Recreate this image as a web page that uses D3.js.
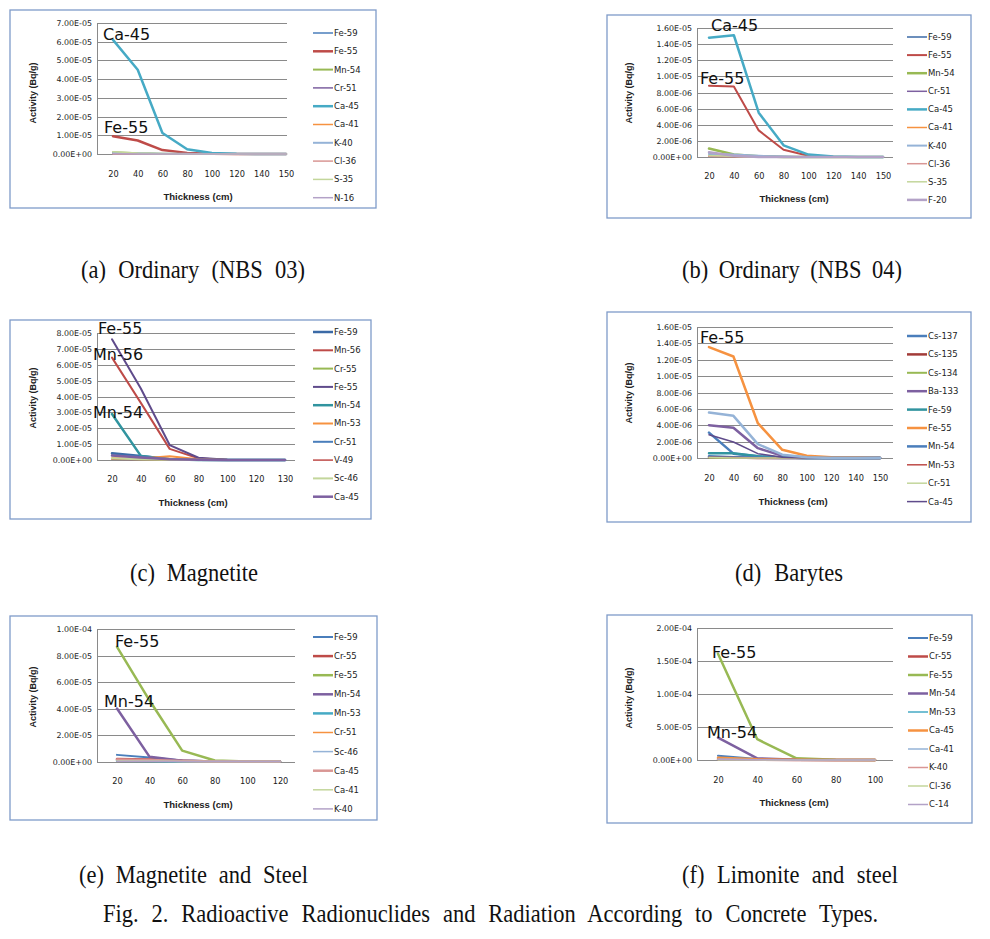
<!DOCTYPE html>
<html>
<head>
<meta charset="utf-8">
<script src="https://cdn.jsdelivr.net/npm/d3@7"></script>
<style>
  html, body { margin: 0; padding: 0; background: #fff; }
  svg { display: block; }
</style>
</head>
<body>
<svg id="fig" width="990" height="939"></svg>
<script>
// ---------------- DATA ----------------
// (a) Ordinary (NBS 03)
const catsA = [20, 40, 60, 80, 100, 120, 140, 150];
const namesA = ["Fe-59", "Fe-55", "Mn-54", "Cr-51", "Ca-45", "Ca-41", "K-40", "Cl-36", "S-35", "N-16"];
const valuesA = [
  [4e-7, 2e-7, 1e-7, 0, 0, 0, 0, 0],
  [9.5e-6, 7.2e-6, 2.1e-6, 6e-7, 1e-7, 0, 0, 0],
  [1.0e-6, 4e-7, 1e-7, 0, 0, 0, 0, 0],
  [2e-7, 1e-7, 0, 0, 0, 0, 0, 0],
  [6.1e-5, 4.5e-5, 1.12e-5, 2.5e-6, 5e-7, 1e-7, 0, 0],
  [1e-7, 1e-7, 0, 0, 0, 0, 0, 0],
  [5e-7, 4e-7, 2e-7, 1e-7, 5e-8, 0, 0, 0],
  [2e-7, 1e-7, 0, 0, 0, 0, 0, 0],
  [1.2e-6, 5e-7, 1e-7, 0, 0, 0, 0, 0],
  [1e-7, 0, 0, 0, 0, 0, 0, 0]
];
const yTicksA = [0, 1e-5, 2e-5, 3e-5, 4e-5, 5e-5, 6e-5, 7e-5];

// (b) Ordinary (NBS 04)
const catsB = [20, 40, 60, 80, 100, 120, 140, 150];
const namesB = ["Fe-59", "Fe-55", "Mn-54", "Cr-51", "Ca-45", "Ca-41", "K-40", "Cl-36", "S-35", "F-20"];
const valuesB = [
  [2.5e-7, 2e-7, 1e-7, 5e-8, 0, 0, 0, 0],
  [8.85e-6, 8.75e-6, 3.3e-6, 9e-7, 1.5e-7, 0, 0, 0],
  [1.05e-6, 3e-7, 1e-7, 0, 0, 0, 0, 0],
  [1e-7, 5e-8, 0, 0, 0, 0, 0, 0],
  [1.48e-5, 1.51e-5, 5.5e-6, 1.45e-6, 3e-7, 5e-8, 0, 0],
  [1e-7, 5e-8, 0, 0, 0, 0, 0, 0],
  [4e-7, 3e-7, 1.5e-7, 5e-8, 0, 0, 0, 0],
  [1e-7, 5e-8, 0, 0, 0, 0, 0, 0],
  [2e-7, 1e-7, 0, 0, 0, 0, 0, 0],
  [6e-7, 1.5e-7, 0, 0, 0, 0, 0, 0]
];
const yTicksB = [0, 2e-6, 4e-6, 6e-6, 8e-6, 1e-5, 1.2e-5, 1.4e-5, 1.6e-5];

// (c) Magnetite
const catsC = [20, 40, 60, 80, 100, 120, 130];
const namesC = ["Fe-59", "Mn-56", "Cr-55", "Fe-55", "Mn-54", "Mn-53", "Cr-51", "V-49", "Sc-46", "Ca-45"];
const valuesC = [
  [4.2e-6, 2.5e-6, 5e-7, 1e-7, 0, 0, 0],
  [6.45e-5, 3.6e-5, 7e-6, 1e-6, 1e-7, 0, 0],
  [1e-6, 5e-7, 1e-7, 0, 0, 0, 0],
  [7.6e-5, 4.5e-5, 9.4e-6, 1.4e-6, 2e-7, 0, 0],
  [2.9e-5, 2.6e-6, 5e-7, 0, 0, 0, 0],
  [1e-6, 1e-6, 2.4e-6, 5e-7, 0, 0, 0],
  [3e-6, 2e-6, 4e-7, 1e-7, 0, 0, 0],
  [5e-7, 3e-7, 1e-7, 0, 0, 0, 0],
  [1e-6, 5e-7, 1e-7, 0, 0, 0, 0],
  [2.8e-6, 1.5e-6, 4e-7, 1e-7, 0, 0, 0]
];
const yTicksC = [0, 1e-5, 2e-5, 3e-5, 4e-5, 5e-5, 6e-5, 7e-5, 8e-5];

// (d) Barytes (last series has no legend entry)
const catsD = [20, 40, 60, 80, 100, 120, 140, 150];
const namesD = ["Cs-137", "Cs-135", "Cs-134", "Ba-133", "Fe-59", "Fe-55", "Mn-54", "Mn-53", "Cr-51", "Ca-45", "Ca-41"];
const valuesD = [
  [3.1e-6, 5.3e-7, 2e-7, 5e-8, 0, 0, 0, 0],
  [1e-7, 5e-8, 0, 0, 0, 0, 0, 0],
  [5e-8, 0, 0, 0, 0, 0, 0, 0],
  [4.0e-6, 3.7e-6, 1.2e-6, 2.8e-7, 5e-8, 0, 0, 0],
  [5.7e-7, 5.7e-7, 2e-7, 5e-8, 0, 0, 0, 0],
  [1.355e-5, 1.24e-5, 4.25e-6, 1.0e-6, 2.8e-7, 8e-8, 5e-8, 0],
  [2e-7, 1e-7, 5e-8, 0, 0, 0, 0, 0],
  [1e-7, 5e-8, 0, 0, 0, 0, 0, 0],
  [5e-8, 0, 0, 0, 0, 0, 0, 0],
  [2.85e-6, 1.95e-6, 5.3e-7, 1e-7, 0, 0, 0, 0],
  [5.55e-6, 5.15e-6, 1.7e-6, 4e-7, 1e-7, 0, 0, 0]
];
const yTicksD = [0, 2e-6, 4e-6, 6e-6, 8e-6, 1e-5, 1.2e-5, 1.4e-5, 1.6e-5];

// (e) Magnetite and Steel
const catsE = [20, 40, 60, 80, 100, 120];
const namesE = ["Fe-59", "Cr-55", "Fe-55", "Mn-54", "Mn-53", "Cr-51", "Sc-46", "Ca-45", "Ca-41", "K-40"];
const valuesE = [
  [5e-6, 3e-6, 8e-7, 1e-7, 0, 0],
  [1.8e-6, 1.5e-6, 5e-7, 0, 0, 0],
  [8.65e-5, 4.6e-5, 8.2e-6, 8e-7, 0, 0],
  [4.0e-5, 3.5e-6, 5e-7, 0, 0, 0],
  [5e-7, 3e-7, 0, 0, 0, 0],
  [1e-6, 8e-7, 2e-7, 0, 0, 0],
  [1e-6, 6e-7, 1e-7, 0, 0, 0],
  [1.5e-6, 1.2e-6, 3e-7, 0, 0, 0],
  [5e-7, 3e-7, 0, 0, 0, 0],
  [2e-7, 1e-7, 0, 0, 0, 0]
];
const yTicksE = [0, 2e-5, 4e-5, 6e-5, 8e-5, 1e-4];

// (f) Limonite and steel
const catsF = [20, 40, 60, 80, 100];
const namesF = ["Fe-59", "Cr-55", "Fe-55", "Mn-54", "Mn-53", "Ca-45", "Ca-41", "K-40", "Cl-36", "C-14"];
const valuesF = [
  [6.6e-6, 1.5e-6, 3e-7, 0, 0],
  [1e-6, 3e-7, 0, 0, 0],
  [1.61e-4, 3.15e-5, 2.5e-6, 5e-7, 0],
  [3.4e-5, 2.5e-6, 3e-7, 0, 0],
  [5e-7, 2e-7, 0, 0, 0],
  [3.5e-6, 1e-6, 2e-7, 0, 0],
  [1e-6, 3e-7, 0, 0, 0],
  [5e-7, 2e-7, 0, 0, 0],
  [5e-7, 2e-7, 0, 0, 0],
  [1e-6, 3e-7, 0, 0, 0]
];
const yTicksF = [0, 5e-5, 1e-4, 1.5e-4, 2e-4];

// annotation labels
const labelsA = [["Ca-45", 4], ["Fe-55", 1]];
const labelsB = [["Ca-45", 4], ["Fe-55", 1]];
const labelsC = [["Fe-55", 3], ["Mn-56", 1], ["Mn-54", 4]];
const labelsD = [["Fe-55", 5]];
const labelsE = [["Fe-55", 2], ["Mn-54", 3]];
const labelsF = [["Fe-55", 2], ["Mn-54", 3]];

const captions = [
  "(a) Ordinary (NBS 03)", "(b) Ordinary (NBS 04)", "(c) Magnetite", "(d) Barytes",
  "(e) Magnetite and Steel", "(f) Limonite and steel",
  "Fig. 2. Radioactive Radionuclides and Radiation According to Concrete Types."
];

// ---------------- STYLE / LAYOUT ----------------
const C = {blue:"#4A7EBB", red:"#BE4B48", green:"#98B954", purple:"#7D60A0", aqua:"#46AAC5", orange:"#F69240",
           lblue:"#95B3D7", pink:"#D99694", lgreen:"#C3D69B", lpurple:"#B3A2C7",
           dblue:"#3B6AA6", teal:"#31949F", dred:"#A23B38", dpurple:"#5F4B8B"};

const layouts = [
  { cats: catsA, names: namesA, values: valuesA, ticks: yTicksA, labels: labelsA,
    colors: [C.blue, C.red, C.green, C.purple, C.aqua, C.orange, C.lblue, C.pink, C.lgreen, C.lpurple],
    widths: [1.5, 2.5, 2, 1.5, 2.5, 1.5, 2, 1.5, 1.5, 1.5],
    frame: [10, 10, 376, 208], plot: [97, 23, 287, 154], xr: [113, 286],
    leg: [313, 33, 18.3], xlabY: 174, xtitle: [198, 197], ytitle: [33, 93],
    labPos: [[103, 40], [104, 133]] },
  { cats: catsB, names: namesB, values: valuesB, ticks: yTicksB, labels: labelsB,
    colors: [C.dblue, C.red, C.green, C.purple, C.aqua, C.orange, C.lblue, C.pink, C.lgreen, C.lpurple],
    widths: [1.5, 2, 2.5, 1.5, 2.5, 1.5, 2, 1.5, 1.5, 2.5],
    frame: [607, 15, 971, 218], plot: [697, 28, 893, 157], xr: [709, 883],
    leg: [907, 37, 18.1], xlabY: 176, xtitle: [794, 199], ytitle: [629, 93],
    labPos: [[711, 31], [700, 84]] },
  { cats: catsC, names: namesC, values: valuesC, ticks: yTicksC, labels: labelsC,
    colors: [C.dblue, C.red, C.green, C.dpurple, C.teal, C.orange, C.blue, C.red, C.lgreen, C.purple],
    widths: [2.5, 2, 2, 2, 2.5, 2, 2, 1.5, 2, 2.5],
    frame: [10, 320, 371, 519], plot: [97, 333, 295, 460], xr: [112, 285],
    leg: [313, 332, 18.3], xlabY: 479, xtitle: [193, 503], ytitle: [33, 398],
    labPos: [[98, 334], [93, 360], [93, 418]] },
  { cats: catsD, names: namesD, values: valuesD, ticks: yTicksD, labels: labelsD,
    colors: [C.blue, C.dred, C.green, C.purple, C.teal, C.orange, C.blue, C.red, C.lgreen, C.dpurple, C.lblue],
    widths: [2.5, 2.5, 2, 2.5, 2.5, 2.5, 2.5, 1.5, 1.5, 1.5, 2.5],
    legendCount: 10,
    frame: [607, 312, 971, 522], plot: [697, 327, 893, 458], xr: [709, 880],
    leg: [907, 336, 18.4], xlabY: 478, xtitle: [793, 502], ytitle: [629, 393],
    labPos: [[700, 343]] },
  { cats: catsE, names: namesE, values: valuesE, ticks: yTicksE, labels: labelsE,
    colors: [C.blue, C.red, C.green, C.purple, C.aqua, C.orange, C.lblue, C.pink, C.lgreen, C.lpurple],
    widths: [2, 2.5, 2.5, 2.5, 2.5, 1.5, 1.5, 2.5, 1.5, 1.5],
    frame: [10, 616, 377, 820], plot: [97, 629, 295, 761.5], xr: [117, 280],
    leg: [313, 637, 19.1], xlabY: 781, xtitle: [198, 805], ytitle: [33, 697],
    labPos: [[115, 647], [104, 707]] },
  { cats: catsF, names: namesF, values: valuesF, ticks: yTicksF, labels: labelsF,
    colors: [C.blue, C.red, C.green, C.purple, C.aqua, C.orange, C.lblue, C.pink, C.lgreen, C.lpurple],
    widths: [2, 2.5, 2.5, 2.5, 1.5, 2.5, 1.5, 1.5, 1.5, 1.5],
    frame: [607, 615, 972, 823], plot: [697, 628, 893, 760], xr: [718, 875],
    leg: [908, 638, 18.5], xlabY: 780, xtitle: [794, 803], ytitle: [629, 698],
    labPos: [[712, 658], [707, 738]] }
];

const capLayout = [
  [81, 278, 224], [682, 278, 220], [130, 581, 128], [735, 581, 108],
  [79, 883, 229], [682, 883, 216], [103, 922, 775]
];

// ---------------- DRAW ----------------
const svg = d3.select("#fig");

function fmtE(v) {
  if (v === 0) return "0.00E+00";
  const [m, e] = v.toExponential(2).split("e");
  const n = parseInt(e, 10);
  return m + "E" + (n < 0 ? "-" : "+") + String(Math.abs(n)).padStart(2, "0");
}

layouts.forEach(L => {
  const g = svg.append("g");
  const [fx0, fy0, fx1, fy1] = L.frame;
  const [px0, pyTop, px1, pyZero] = L.plot;

  g.append("rect").attr("x", fx0).attr("y", fy0)
    .attr("width", fx1 - fx0).attr("height", fy1 - fy0)
    .attr("fill", "#fff").attr("stroke", "#7F9BC9").attr("stroke-width", 1.3);

  const y = d3.scaleLinear().domain([0, d3.max(L.ticks)]).range([pyZero, pyTop]);
  const x = d3.scalePoint().domain(L.cats).range(L.xr);

  // gridlines
  const grid = g.append("g").attr("transform", `translate(${px0},0)`)
    .call(d3.axisLeft(y).tickValues(L.ticks).tickSize(-(px1 - px0)).tickFormat(""));
  grid.select(".domain").remove();
  grid.selectAll(".tick line").attr("stroke", "#8a8a8a").attr("stroke-width", 1)
    .attr("shape-rendering", "crispEdges");

  // y axis line + labels
  const ya = g.append("g").attr("transform", `translate(${px0},0)`)
    .call(d3.axisLeft(y).tickValues(L.ticks).tickSize(0).tickPadding(5).tickFormat(fmtE));
  ya.select(".domain").attr("stroke", "#8a8a8a").attr("shape-rendering", "crispEdges");
  ya.selectAll(".tick text").attr("font-family", "DejaVu Sans").attr("font-size", 7.9).attr("fill", "#1a1a1a");

  // x labels
  const xa = g.append("g").attr("transform", `translate(0,${L.xlabY})`)
    .call(d3.axisBottom(x).tickSize(0).tickPadding(0));
  xa.select(".domain").remove();
  xa.selectAll(".tick text").attr("font-family", "DejaVu Sans").attr("font-size", 8.2)
    .attr("fill", "#1a1a1a").attr("dy", "0.35em");

  // titles
  g.append("text").attr("x", L.xtitle[0]).attr("y", L.xtitle[1]).attr("dy", "0.35em")
    .attr("text-anchor", "middle").attr("font-family", "Liberation Sans").attr("font-weight", "bold")
    .attr("font-size", 9.5).attr("fill", "#222").text("Thickness (cm)");
  g.append("text").attr("transform", `translate(${L.ytitle[0]},${L.ytitle[1]}) rotate(-90)`)
    .attr("dy", "0.35em").attr("text-anchor", "middle").attr("font-family", "Liberation Sans")
    .attr("font-weight", "bold").attr("font-size", 9).attr("fill", "#222").text("Activity (Bq/g)");

  // lines
  const line = d3.line().x((d, i) => x(L.cats[i])).y(d => y(d));
  L.values.forEach((vals, si) => {
    g.append("path").datum(vals).attr("d", line).attr("fill", "none")
      .attr("stroke", L.colors[si]).attr("stroke-width", L.widths[si])
      .attr("stroke-linejoin", "round").attr("stroke-linecap", "round");
  });

  // legend
  const n = L.legendCount || L.names.length;
  const [lx, ly0, lstep] = L.leg;
  for (let i = 0; i < n; i++) {
    const yy = ly0 + i * lstep;
    g.append("line").attr("x1", lx).attr("x2", lx + 20).attr("y1", yy).attr("y2", yy)
      .attr("stroke", L.colors[i]).attr("stroke-width", L.widths[i]);
    g.append("text").attr("x", lx + 21).attr("y", yy).attr("dy", "0.35em")
      .attr("font-family", "DejaVu Sans").attr("font-size", 8.5).attr("fill", "#222").text(L.names[i]);
  }

  // annotations
  L.labels.forEach((lab, k) => {
    g.append("text").attr("x", L.labPos[k][0]).attr("y", L.labPos[k][1])
      .attr("font-family", "DejaVu Sans").attr("font-size", 16).attr("fill", "#111").text(lab[0]);
  });
});

// captions: serif glyphs, word gaps adjusted to match measured widths
captions.forEach((t, i) => {
  const [cx, cy, w] = capLayout[i];
  const txt = svg.append("text").attr("transform", `translate(${cx},${cy}) scale(1,1.1)`)
    .attr("font-family", "Liberation Serif").attr("font-size", 22.5).attr("fill", "#111").text(t);
  const natural = txt.node().getComputedTextLength();
  const spaces = (t.match(/ /g) || []).length;
  if (spaces > 0) txt.attr("word-spacing", ((w - natural) / spaces).toFixed(2));
});
</script>
</body>
</html>
